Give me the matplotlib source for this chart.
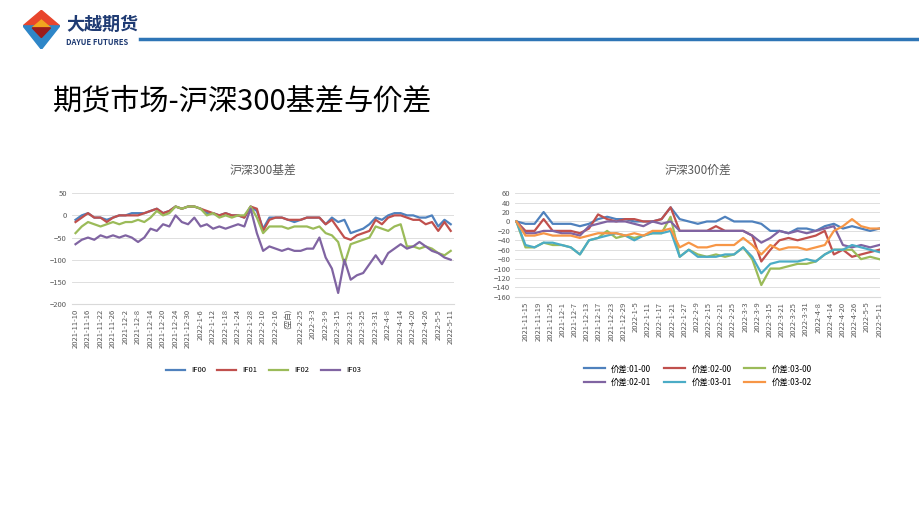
import matplotlib.pyplot as plt
import numpy as np
from matplotlib.patches import Polygon
from matplotlib import font_manager

names = {f.name for f in font_manager.fontManager.ttflist}
cjk = [n for n in ['Noto Sans CJK SC', 'Noto Sans CJK JP', 'Noto Sans CJK TC', 'Noto Sans CJK KR'] if n in names]
plt.rcParams['font.family'] = cjk + ['DejaVu Sans']

# left chart: basis
basis_ticks = ['2021-11-10', '2021-11-16', '2021-11-22', '2021-11-26', '2021-12-2', '2021-12-8',
               '2021-12-14', '2021-12-20', '2021-12-24', '2021-12-30', '2022-1-6', '2022-1-12',
               '2022-1-18', '2022-1-24', '2022-1-28', '2022-2-10', '2022-2-16', '(空白)', '2022-2-25',
               '2022-3-3', '2022-3-9', '2022-3-15', '2022-3-21', '2022-3-25', '2022-3-31', '2022-4-8',
               '2022-4-14', '2022-4-20', '2022-4-26', '2022-5-5', '2022-5-11']
IF00 = [-10, 0, 5, -5, -5, -10, -5, 0, 0, 5, 5, 5, 10, 15, 5, 10, 20, 15, 20, 20, 15, 5, 5, 0, 5, 0,
        0, -5, 20, 10, -30, -5, -5, -5, -10, -15, -10, -5, -5, -5, -20, -5, -15, -10, -40, -35, -30,
        -20, -5, -10, 0, 5, 5, 0, 0, -5, -5, 0, -25, -10, -20]
IF01 = [-15, -5, 5, -5, -5, -15, -5, 0, 0, 0, 0, 5, 10, 15, 5, 10, 20, 15, 20, 20, 15, 10, 5, 0, 5,
        0, 0, -5, 20, 15, -35, -10, -5, -5, -10, -10, -10, -5, -5, -5, -20, -10, -30, -50, -55, -45,
        -40, -35, -10, -20, -5, 0, 0, -5, -10, -10, -20, -15, -35, -15, -35]
IF02 = [-40, -25, -15, -20, -25, -20, -15, -20, -15, -15, -10, -15, -5, 10, 0, 5, 20, 15, 20, 20, 15,
        0, 5, -5, 0, -5, 0, 0, 20, -5, -40, -25, -25, -25, -30, -25, -25, -25, -30, -25, -40, -45,
        -60, -110, -65, -60, -55, -50, -25, -30, -35, -25, -20, -70, -70, -75, -70, -75, -85, -90, -80]
IF03 = [-65, -55, -50, -55, -45, -50, -45, -50, -45, -50, -60, -50, -30, -35, -20, -25, 0, -15, -20,
        -5, -25, -20, -30, -25, -30, -25, -20, -25, 15, -40, -80, -70, -75, -80, -75, -80, -80, -75,
        -75, -50, -95, -120, -175, -100, -145, -135, -130, -110, -90, -110, -85, -75, -65, -75, -70,
        -60, -70, -80, -85, -95, -100]

# right chart: spreads
spread_ticks = ['2021-11-15', '2021-11-19', '2021-11-25', '2021-12-1', '2021-12-7', '2021-12-13',
                '2021-12-17', '2021-12-23', '2021-12-29', '2022-1-5', '2022-1-11', '2022-1-17',
                '2022-1-21', '2022-1-27', '2022-2-9', '2022-2-15', '2022-2-21', '2022-2-25',
                '2022-3-3', '2022-3-9', '2022-3-15', '2022-3-21', '2022-3-25', '2022-3-31',
                '2022-4-8', '2022-4-14', '2022-4-20', '2022-4-26', '2022-5-5', '2022-5-11']
s01_00 = [0, -5, -5, 20, -5, -5, -5, -10, -5, 5, 10, 5, 5, 0, 0, 0, 5, 30, 5, 0, -5, 0, 0, 10, 0,
          0, 0, -5, -20, -20, -25, -15, -15, -20, -10, -5, -15, -10, -15, -20, -15]
s02_00 = [0, -20, -20, 5, -20, -20, -20, -25, -15, 15, 5, 0, 5, 5, 0, 0, 5, 30, -20, -20, -20, -20,
          -10, -20, -20, -20, -30, -85, -60, -40, -35, -40, -35, -30, -20, -70, -60, -75, -70, -65, -60]
s03_00 = [0, -55, -55, -45, -50, -50, -55, -70, -40, -35, -20, -35, -30, -35, -30, -25, -25, 10, -75,
          -60, -70, -75, -70, -75, -70, -55, -80, -135, -100, -100, -95, -90, -90, -85, -70, -60, -60,
          -60, -80, -75, -80]
s02_01 = [0, -25, -25, -20, -20, -25, -25, -30, -10, -5, 0, 0, 0, -5, -10, 0, -5, 0, -20, -20, -20,
          -20, -20, -20, -20, -20, -30, -45, -35, -20, -25, -20, -25, -20, -15, -10, -50, -55, -50,
          -55, -50]
s03_01 = [0, -50, -55, -45, -45, -50, -55, -70, -40, -35, -30, -25, -30, -40, -30, -25, -25, -20,
          -75, -60, -75, -75, -75, -70, -70, -55, -75, -110, -90, -85, -85, -85, -80, -85, -70, -60,
          -60, -50, -55, -60, -65]
s03_02 = [0, -30, -30, -25, -30, -30, -30, -35, -30, -25, -25, -25, -30, -25, -30, -20, -20, -15,
          -55, -45, -55, -55, -50, -50, -50, -35, -50, -70, -50, -60, -55, -55, -60, -55, -50, -20,
          -10, 5, -10, -15, -15]

fig = plt.figure(figsize=(9.2, 5.18), dpi=100)
fig.patch.set_facecolor('white')

# header: logo + blue rule
logo = fig.add_axes([0.025, 0.905, 0.04, 0.075])
logo.set_xlim(0, 1)
logo.set_ylim(0, 1)
logo.axis('off')
logo.add_patch(Polygon([[0.5, 1], [0, 0.6], [1, 0.6]], color='#e8452c'))
logo.add_patch(Polygon([[0, 0.6], [1, 0.6], [0.5, 0.0]], color='#2e86c8'))
logo.add_patch(Polygon([[0.5, 0.75], [0.25, 0.55], [0.75, 0.55]], color='#f2a51f'))
logo.add_patch(Polygon([[0.25, 0.55], [0.75, 0.55], [0.5, 0.3]], color='#9b1c1c'))
fig.text(0.072, 0.952, '大越期货', fontsize=13, fontweight='bold', color='#1f3b73', va='center')
fig.text(0.072, 0.918, 'DAYUE FUTURES', fontsize=5.5, fontweight='bold', color='#1f3b73', va='center')
fig.add_artist(plt.Line2D([0.152, 1.0], [0.924, 0.924], color='#2e75b6', lw=2.5))
fig.text(0.058, 0.805, '期货市场-沪深300基差与价差', fontsize=21, color='black', va='center')

def style(ax, ticks, ylim, step):
    ax.set_ylim(*ylim)
    ax.set_yticks(np.arange(ylim[0], ylim[1] + 1, step))
    ax.set_xticks(range(len(ticks)))
    ax.set_xticklabels(ticks, rotation=90, fontsize=5.5, color='#595959')
    ax.tick_params(axis='y', labelsize=5.5, colors='#595959', length=0)
    ax.tick_params(axis='x', length=0)
    ax.grid(axis='y', color='#d9d9d9', lw=0.6)
    ax.set_axisbelow(True)
    for s in ['top', 'right', 'left']:
        ax.spines[s].set_visible(False)
    ax.spines['bottom'].set_color('#d9d9d9')

ax1 = fig.add_axes([0.078, 0.413, 0.416, 0.214])
for name, vals, c in [('IF00', IF00, '#4f81bd'), ('IF01', IF01, '#c0504d'),
                      ('IF02', IF02, '#9bbb59'), ('IF03', IF03, '#8064a2')]:
    ax1.plot(np.linspace(0, len(basis_ticks) - 1, len(vals)), vals, color=c, lw=1.6, label=name)
style(ax1, basis_ticks, (-200, 50), 50)
ax1.set_xlim(-0.3, len(basis_ticks) - 0.7)
ax1.set_title('沪深300基差', fontsize=8.5, color='#595959', pad=14)
ax1.legend(loc='upper center', bbox_to_anchor=(0.5, -0.5), ncol=4, frameon=False, fontsize=5.5,
           handlelength=2.5, columnspacing=1.5)

ax2 = fig.add_axes([0.56, 0.427, 0.397, 0.2])
for name, vals, c in [('价差:01-00', s01_00, '#4f81bd'), ('价差:02-00', s02_00, '#c0504d'),
                      ('价差:03-00', s03_00, '#9bbb59'), ('价差:02-01', s02_01, '#8064a2'),
                      ('价差:03-01', s03_01, '#4bacc6'), ('价差:03-02', s03_02, '#f79646')]:
    ax2.plot(np.linspace(-0.8, len(spread_ticks) - 1, len(vals)), vals, color=c, lw=1.6, label=name)
style(ax2, spread_ticks, (-160, 60), 20)
ax2.set_xlim(-0.9, len(spread_ticks) - 0.9)
ax2.set_title('沪深300价差', fontsize=8.5, color='#595959', pad=14)
h, l = ax2.get_legend_handles_labels()
order = [0, 3, 1, 4, 2, 5]  # row-wise fill like Excel
ax2.legend([h[i] for i in order], [l[i] for i in order], loc='upper center',
           bbox_to_anchor=(0.5, -0.58), ncol=3, frameon=False, fontsize=6,
           handlelength=2.5, columnspacing=1.5)

fig.savefig('out.png', dpi=100)
